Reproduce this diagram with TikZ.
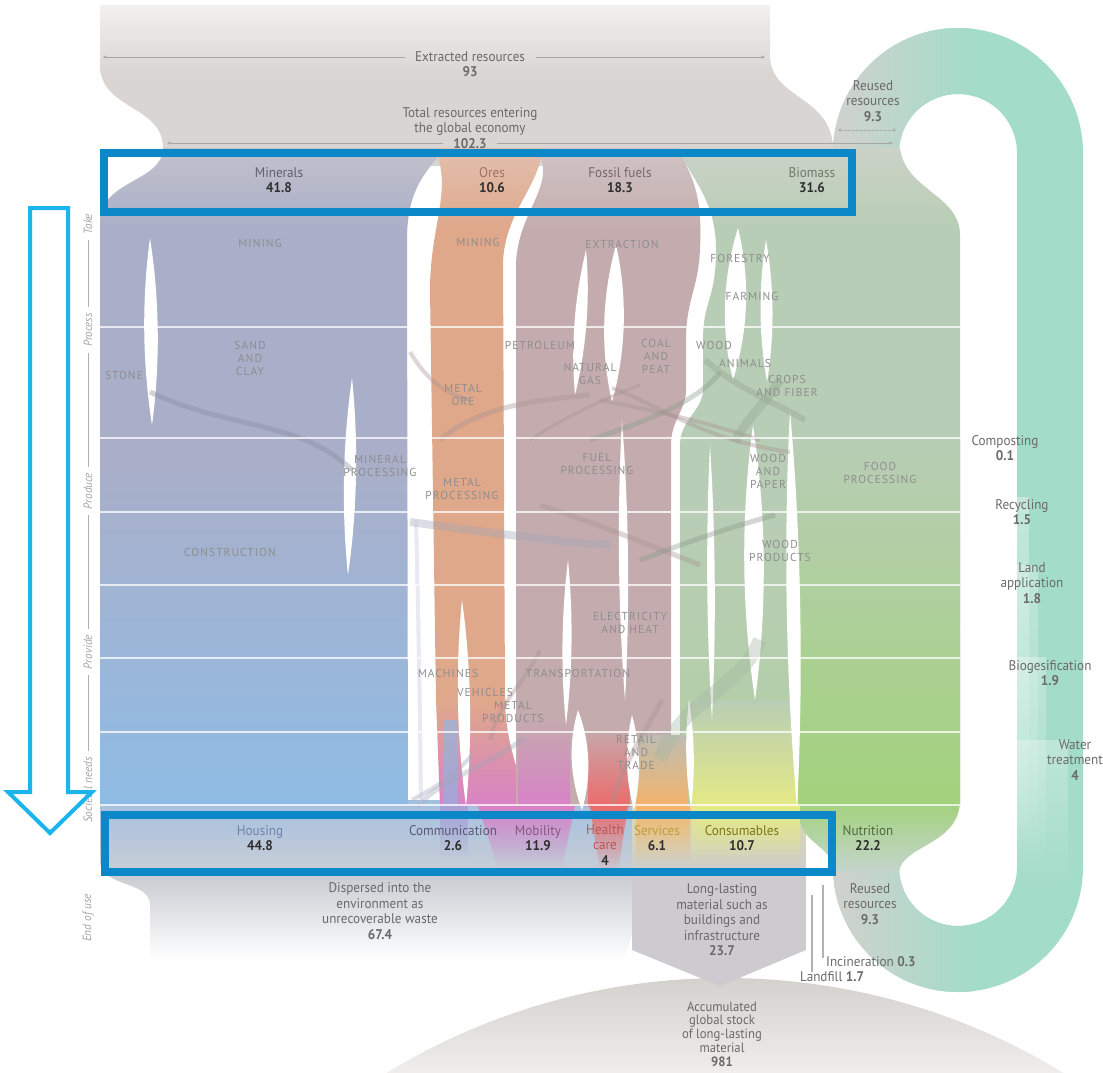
\documentclass[tikz,border=0pt]{standalone}
\usepackage{fontspec}
\setmainfont{PT Sans}
\newfontfamily\cond[FakeStretch=0.94]{PT Sans}
\newfontfamily\capf[LetterSpace=9]{PT Sans}
\usetikzlibrary{calc,fadings,arrows.meta}
\definecolor{gtop}{HTML}{F2F1F0}
\definecolor{gmid}{HTML}{D9D5D3}
\definecolor{mintop}{HTML}{C2C1CB}
\definecolor{minmid}{HTML}{A9AFC9}
\definecolor{minbot}{HTML}{8FBCE5}
\definecolor{oretop}{HTML}{E2BFAE}
\definecolor{ore}{HTML}{DFA88A}
\definecolor{fostop}{HTML}{D0C3C3}
\definecolor{fos}{HTML}{C4ACAE}
\definecolor{biotop}{HTML}{CBD2C7}
\definecolor{bio}{HTML}{B8CDB5}
\definecolor{food}{HTML}{A2D27B}
\definecolor{tealc}{HTML}{A3DCC9}
\definecolor{loopgray}{HTML}{D2D1CD}
\definecolor{commc}{HTML}{A7A2D6}
\definecolor{mobc}{HTML}{D882C6}
\definecolor{healc}{HTML}{EC6B6B}
\definecolor{servc}{HTML}{F4B46C}
\definecolor{consc}{HTML}{E5EA86}
\definecolor{housc}{HTML}{A3C0E0}
\definecolor{rowgray}{HTML}{CDCFD5}
\definecolor{llg}{HTML}{CDCBD0}
\definecolor{stockt}{HTML}{D3D0CC}
\definecolor{stockb}{HTML}{EFEEEC}
\definecolor{boxblue}{HTML}{0C87C8}
\definecolor{arrblue}{HTML}{1CB4EC}
\definecolor{lab}{HTML}{8E8E8E}
\definecolor{dark}{HTML}{2E2E2E}
\definecolor{txtg}{HTML}{6A6A6A}
\definecolor{housetxt}{HTML}{6F83AD}
\newcommand{\lensslit}[5]{%
  \fill[white] (#1,#2) .. controls ($(#1,#2)!0.33!(#3,#4)+(#5,0)$) and ($(#1,#2)!0.67!(#3,#4)+(#5,0)$) .. (#3,#4)
   .. controls ($(#1,#2)!0.67!(#3,#4)-(#5,0)$) and ($(#1,#2)!0.33!(#3,#4)-(#5,0)$) .. (#1,#2) -- cycle;}
\tikzset{
  lblcap/.style={font=\capf\fontsize{11.5}{13}\selectfont, text=lab, align=center, inner sep=0pt},
  lblsrc/.style={font=\cond\fontsize{14}{15.5}\selectfont, align=center, inner sep=0pt},
  lblside/.style={font=\cond\fontsize{14}{15.5}\selectfont, align=center, inner sep=0pt, text=txtg},
  lblstage/.style={font=\cond\itshape\fontsize{12}{13}\selectfont, text=lab!80, rotate=90, inner sep=0pt},
  rowline/.style={white, line width=1.6, opacity=0.75},
  xstrand/.style={line width=#1, opacity=0.38},
  meas/.style={draw=gray!70, line width=0.6},
}
\begin{document}
\begin{tikzpicture}[x=1pt,y=-1pt]
\useasboundingbox (0,0) rectangle (1103,1073);

% accumulated stock
\begin{scope}
  \clip (725,1628) circle (650);
  \shade[top color=stockt, bottom color=stockb] (60,975) rectangle (1103,1073);
\end{scope}

% grey extraction band
\begin{scope}
  \clip (100,5) -- (770,5) -- (770,55) .. controls (770,100) and (833,95) .. (833,150) -- (833,166) -- (163,166) -- (163,148) .. controls (163,105) and (100,110) .. (100,65) -- cycle;
  \shade[top color=gtop, bottom color=gmid] (100,5) rectangle (840,75);
  \fill[gmid] (100,75) rectangle (840,167);
\end{scope}

% reuse loop
\begin{scope}
  \clip (833,153) arc[start angle=180,end angle=360,radius=125] -- (1083,867) arc[start angle=0,end angle=180,radius=125] -- (899,867) arc[start angle=180,end angle=0,radius=59] -- (1017,153) arc[start angle=0,end angle=-180,radius=59] -- cycle;
  \fill[tealc] (820,0) rectangle (1100,1073);
  \shade[left color=loopgray, right color=tealc] (830,0) rectangle (975,1073);
  \fill[white, opacity=0.35, path fading=south] (1017,497) rectangle (1029,860);
  \fill[white, opacity=0.3, path fading=south] (1017,565) rectangle (1038,870);
  \fill[white, opacity=0.3, path fading=south] (1017,657) rectangle (1046,880);
  \fill[white, opacity=0.3, path fading=south] (1017,740) rectangle (1068,890);
\end{scope}

% dispersed waste
\begin{scope}
  \clip (100,800) -- (645,800) -- (645,875) .. controls (640,910) and (630,940) .. (625,960) -- (150,960) -- (150,905) .. controls (150,880) and (100,888) .. (100,860) -- cycle;
  \shade[top color=housc, bottom color=rowgray] (100,800) rectangle (650,880);
  \shade[top color=rowgray, bottom color=white] (100,880) rectangle (650,960);
\end{scope}
% long-lasting
\begin{scope}
  \clip (632,800) -- (806,800) -- (806,950) -- (720,986) -- (632,950) -- cycle;
  \shade[top color=consc!55!llg, bottom color=llg] (632,800) rectangle (806,880);
  \fill[llg] (632,880) rectangle (806,990);
\end{scope}
% nutrition outflow
\begin{scope}
  \clip (800,800) -- (960,800) .. controls (960,845) and (902,845) .. (899,872) -- (834,872) .. controls (834,848) and (806,845) .. (800,822) -- cycle;
  \shade[top color=food, bottom color=loopgray!70!tealc] (800,800) rectangle (960,872);
\end{scope}

% Minerals column
\begin{scope}
  \clip (163,148) -- (438,148) -- (438,157) .. controls (418,180) and (407,200) .. (407,240) -- (408,805) -- (100,805) -- (100,222) .. controls (100,180) and (163,182) .. (163,148) -- cycle;
  \shade[top color=mintop, bottom color=minmid] (100,148) rectangle (440,230);
  \fill[minmid] (100,230) rectangle (440,470);
  \shade[top color=minmid, bottom color=minbot] (100,470) rectangle (440,806);
\end{scope}
% Ores column
\begin{scope}
  \clip (438,148) -- (541,148) -- (541,157) .. controls (535,190) and (505,215) .. (503,262) -- (505,700) .. controls (506,750) and (522,775) .. (526,806) -- (440,806) -- (436,700) -- (430,290) .. controls (430,230) and (450,195) .. (438,157) -- cycle;
  \shade[top color=oretop, bottom color=ore] (420,148) rectangle (545,230);
  \fill[ore] (420,230) rectangle (545,700);
  \shade[top color=ore, bottom color=mobc] (420,700) rectangle (545,806);
\end{scope}
% Fossil column
\begin{scope}
  \clip (541,148) -- (682,148) -- (682,157) .. controls (697,185) and (702,205) .. (700,250) .. controls (698,290) and (686,300) .. (686,340) -- (686,390) .. controls (686,410) and (671,420) .. (671,445) -- (671,806) -- (516,806) -- (516,265) .. controls (517,215) and (552,190) .. (541,157) -- cycle;
  \shade[top color=fostop, bottom color=fos] (510,148) rectangle (705,230);
  \fill[fos] (510,230) rectangle (705,806);
\end{scope}
% Biomass column
\begin{scope}
  \clip (682,148) -- (900,148) .. controls (905,190) and (960,195) .. (960,235) -- (960,806) -- (680,806) -- (680,445) .. controls (680,420) and (703,410) .. (703,390) -- (703,340) .. controls (703,300) and (716,300) .. (716,250) .. controls (716,205) and (697,185) .. (682,157) -- cycle;
  \shade[top color=biotop, bottom color=bio] (670,148) rectangle (965,230);
  \fill[bio] (670,230) rectangle (965,520);
  \shade[top color=bio, bottom color=bio!70!food] (670,520) rectangle (965,806);
  \shade[top color=bio, bottom color=food] (795,440) rectangle (965,806);
\end{scope}

% societal needs strands
\shade[top color=minmid, bottom color=commc] (443,720) rectangle (458,806);
\fill[commc, path fading=south] (440,806) rectangle (468,858);
\shade[top color=fos, bottom color=mobc] (518,715) rectangle (570,806);
\fill[mobc, path fading=south] (478,806) -- (575,806) -- (562,868) -- (498,868) -- cycle;
\shade[top color=fos, bottom color=healc] (588,725) rectangle (630,806);
\fill[healc, path fading=south] (590,806) -- (628,806) -- (618,872) -- (600,872) -- cycle;
\shade[top color=bio!50!fos, bottom color=servc] (636,735) rectangle (688,806);
\fill[servc, path fading=south] (636,806) rectangle (690,862);
\shade[top color=bio, bottom color=consc] (692,700) rectangle (798,806);
\fill[consc, path fading=south] (692,806) rectangle (800,862);

% white slits
\lensslit{150}{238}{152}{425}{9}
\lensslit{352}{378}{348}{575}{8}
\lensslit{462}{600}{466}{806}{8}
\lensslit{586}{250}{575}{395}{8}
\lensslit{616}{245}{612}{402}{13}
\lensslit{622}{420}{625}{700}{6}
\lensslit{568}{560}{566}{725}{6}
\lensslit{578}{710}{582}{810}{11}
\lensslit{632}{715}{634}{810}{8}
\lensslit{738}{228}{733}{380}{14}
\lensslit{766}{240}{767}{382}{8}
\lensslit{710}{445}{712}{720}{5}
\lensslit{753}{425}{755}{700}{13}
\lensslit{790}{410}{797}{808}{9}
\lensslit{689}{700}{691}{808}{5}

% crossing strands
\draw[xstrand=5, draw=minmid!80!black] (150,392) .. controls (230,430) and (300,420) .. (352,470);
\draw[xstrand=4, draw=fos!85!black] (410,352) .. controls (430,385) and (450,395) .. (470,400);
\draw[xstrand=5, draw=fos!85!black] (590,395) .. controls (540,400) and (480,405) .. (440,440);
\draw[xstrand=4, draw=fos!85!black] (600,400) .. controls (650,410) and (700,420) .. (760,440);
\draw[xstrand=4, draw=fos!85!black] (612,388) .. controls (650,400) and (700,440) .. (790,452);
\draw[xstrand=3, draw=fos!85!black] (640,385) .. controls (600,400) and (560,420) .. (530,440);
\draw[xstrand=5, draw=bio!75!black] (720,372) .. controls (700,400) and (650,420) .. (590,440);
\draw[xstrand=9, draw=bio!80!black] (780,380) .. controls (760,410) and (745,420) .. (735,442);
\draw[xstrand=6, draw=bio!80!black] (705,360) .. controls (740,390) and (770,400) .. (805,420);
\draw[xstrand=8, draw=minmid!80!gray] (410,522) .. controls (470,530) and (540,540) .. (610,545);
\draw[xstrand=5, draw=fos!85!black] (540,505) .. controls (600,525) and (650,545) .. (700,565);
\draw[xstrand=5, draw=bio!75!black] (775,515) .. controls (720,530) and (680,545) .. (640,560);
\draw[xstrand=14, draw=bio!90!black] (760,640) .. controls (740,690) and (680,700) .. (660,760);
\draw[xstrand=5, draw=minmid!80!gray] (525,738) .. controls (480,770) and (440,780) .. (418,806);
\draw[xstrand=4, draw=minmid!80!gray] (472,755) .. controls (450,780) and (430,790) .. (412,800);
\draw[xstrand=4, draw=minmid!70!white] (416,520) .. controls (418,600) and (420,700) .. (421,806);
\draw[xstrand=5, draw=fos!85!black] (662,700) .. controls (640,740) and (620,770) .. (612,805);
\draw[xstrand=4, draw=fos!85!black] (540,650) .. controls (520,690) and (500,700) .. (490,740);

% row lines
\foreach \yy in {327,438,512,585,658,732,805}
  \draw[rowline] (100,\yy) -- (960,\yy);

% top measurements
\draw[meas, {Stealth[length=4pt,width=3pt]}-] (103,57) -- (405,57);
\draw[meas, -{Stealth[length=4pt,width=3pt]}] (536,57) -- (765,57);
\node[lblside] (exr) at (470,64) {Extracted resources\\\textbf{93}};
\draw[meas, {Stealth[length=4pt,width=3pt]}-] (167,143) -- (443,143);
\draw[meas, -{Stealth[length=4pt,width=3pt]}] (497,143) -- (893,143);
\node[lblside] (tot) at (470,128) {Total resources entering\\the global economy\\\textbf{102.3}};
\draw[meas, densely dotted, {Stealth[length=3pt,width=3pt]}-{Stealth[length=3pt,width=3pt]}] (838,130) -- (896,130);
\node[lblside] (reu) at (873,101) {Reused\\resources\\\textbf{9.3}};

% sources
\node[lblsrc, text=minmid!55!black] (smin) at (279,180) {Minerals\\\textcolor{dark}{\textbf{41.8}}};
\node[lblsrc, text=ore!70!black] (sore) at (492,180) {Ores\\\textcolor{dark}{\textbf{10.6}}};
\node[lblsrc, text=fos!60!black] (sfos) at (620,180) {Fossil fuels\\\textcolor{dark}{\textbf{18.3}}};
\node[lblsrc, text=bio!60!black] (sbio) at (812,180) {Biomass\\\textcolor{dark}{\textbf{31.6}}};

% process labels
\node[lblcap] (l1) at (260,243) {MINING};
\node[lblcap] (l2) at (250,358) {SAND\\AND\\CLAY};
\node[lblcap] (l3) at (124,375) {STONE};
\node[lblcap] (l4) at (380,466) {MINERAL\\PROCESSING};
\node[lblcap] (l5) at (230,552) {CONSTRUCTION};
\node[lblcap] (l6) at (478,242) {MINING};
\node[lblcap] (l7) at (463,395) {METAL\\ORE};
\node[lblcap] (l8) at (462,489) {METAL\\PROCESSING};
\node[lblcap] (l9) at (622,244) {EXTRACTION};
\node[lblcap] (l10) at (540,345) {PETROLEUM};
\node[lblcap] (l11) at (590,374) {NATURAL\\GAS};
\node[lblcap] (l12) at (656,356) {COAL\\AND\\PEAT};
\node[lblcap] (l13) at (597,464) {FUEL\\PROCESSING};
\node[lblcap] (l14) at (630,623) {ELECTRICITY\\AND HEAT};
\node[lblcap] (l15) at (740,258) {FORESTRY};
\node[lblcap] (l16) at (752,296) {FARMING};
\node[lblcap] (l17) at (714,345) {WOOD};
\node[lblcap] (l18) at (745,363) {ANIMALS};
\node[lblcap] (l19) at (787,386) {CROPS\\AND FIBER};
\node[lblcap] (l20) at (768,471) {WOOD\\AND\\PAPER};
\node[lblcap] (l21) at (880,473) {FOOD\\PROCESSING};
\node[lblcap] (l22) at (780,551) {WOOD\\PRODUCTS};
\node[lblcap] (l23) at (448,673) {MACHINES};
\node[lblcap] (l24) at (485,692) {VEHICLES};
\node[lblcap] (l25) at (578,673) {TRANSPORTATION};
\node[lblcap] (l26) at (513,712) {METAL\\PRODUCTS};
\node[lblcap] (l27) at (636,752) {RETAIL\\AND\\TRADE};

% societal needs labels
\node[lblsrc, text=housetxt] (nh) at (260,838) {Housing\\\textcolor{dark}{\textbf{44.8}}};
\node[lblsrc, text=commc!55!black] (nc) at (453,838) {Communication\\\textcolor{dark}{\textbf{2.6}}};
\node[lblsrc, text=mobc!65!black] (nm) at (538,838) {Mobility\\\textcolor{dark}{\textbf{11.9}}};
\node[lblsrc, text=healc!80!black] (nhc) at (605,845) {Health\\care\\\textcolor{dark}{\textbf{4}}};
\node[lblsrc, text=servc!55!olive] (ns) at (657,838) {Services\\\textcolor{dark}{\textbf{6.1}}};
\node[lblsrc, text=olive!85!black] (nco) at (742,838) {Consumables\\\textcolor{dark}{\textbf{10.7}}};
\node[lblsrc, text=food!50!black] (nn) at (868,838) {Nutrition\\\textcolor{dark}{\textbf{22.2}}};

% end of use labels
\node[lblside] (ed) at (380,911) {Dispersed into the\\environment as\\unrecoverable waste\\\textbf{67.4}};
\node[lblside] (el) at (722,920) {Long-lasting\\material such as\\buildings and\\infrastructure\\\textbf{23.7}};
\node[lblside] (er) at (870,904) {Reused\\resources\\\textbf{9.3}};
\draw[gray!60, line width=1.1] (823,885) -- (823,958);
\draw[gray!60, line width=1.1] (812,895) -- (812,972);
\node[lblside, anchor=west] (einc) at (826,962) {Incineration \textbf{0.3}};
\node[lblside, anchor=west] (elf) at (800,977) {Landfill \textbf{1.7}};
\node[lblside, font=\cond\fontsize{13.5}{13.8}\selectfont] (stock) at (722,1034) {Accumulated\\global stock\\of long-lasting\\material\\\textbf{981}};

% reuse pathways
\node[lblside] (r1) at (1005,448) {Composting\\\textbf{0.1}};
\node[lblside] (r2) at (1022,512) {Recycling\\\textbf{1.5}};
\node[lblside] (r3) at (1032,583) {Land\\application\\\textbf{1.8}};
\node[lblside] (r4) at (1050,673) {Biogesification\\\textbf{1.9}};
\node[lblside] (r5) at (1075,760) {Water\\treatment\\\textbf{4}};

% stage labels
\node[lblstage] (s1) at (88,224) {Take};
\node[lblstage] (s2) at (88,330) {Process};
\node[lblstage] (s3) at (88,491) {Produce};
\node[lblstage] (s4) at (88,652) {Provide};
\node[lblstage] (s5) at (88,790) {Societal needs};
\node[lblstage] (s6) at (88,918) {End of use};
\draw[lab!70, line width=0.5] (s1.west) ++(0,6) -- ($(s2.east)+(0,-6)$);
\draw[lab!70, line width=0.5] (s2.west) ++(0,6) -- ($(s3.east)+(0,-6)$);
\draw[lab!70, line width=0.5] (s3.west) ++(0,6) -- ($(s4.east)+(0,-6)$);
\draw[lab!70, line width=0.5] (s4.west) ++(0,6) -- ($(s5.east)+(0,-6)$);

% highlight boxes
\draw[boxblue, line width=8] (104,153) rectangle (852,212);
\draw[boxblue, line width=8] (105,815) rectangle (832,872);

% direction arrow
\draw[arrblue, line width=4, line join=miter] (30,208) -- (68,208) -- (68,792) -- (92,792) -- (50,833) -- (8,792) -- (30,792) -- cycle;
\end{tikzpicture}
\end{document}
